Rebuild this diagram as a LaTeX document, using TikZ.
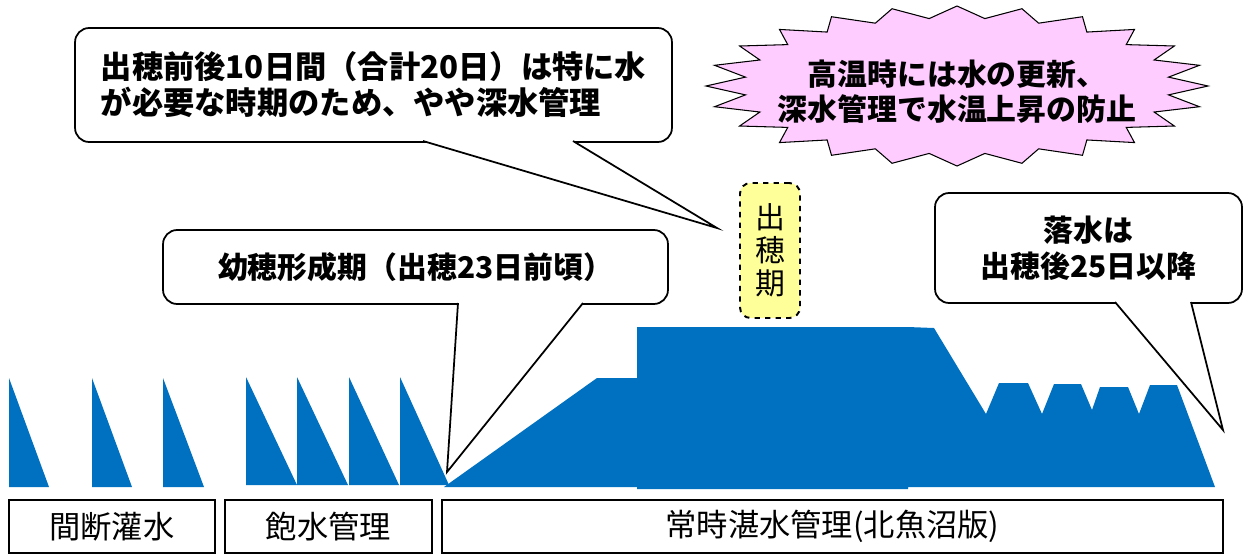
\documentclass[tikz,border=0pt]{standalone}
\usepackage{fontspec}
\newfontfamily\jp{Noto Sans CJK JP}
\definecolor{waterblue}{HTML}{0070C0}
\definecolor{burstpink}{HTML}{FFCCFF}
\definecolor{noteyellow}{HTML}{FFFF99}
\tikzset{
  water/.style={fill=waterblue},
  balloon/.style={draw,line width=1pt,rounded corners=8pt,fill=white,align=left,
    font=\jp\bfseries\fontsize{17}{20.5}\selectfont},
  tail/.style={draw,line width=1pt,fill=white,line join=miter},
  burst/.style={draw,line width=0.6pt,fill=burstpink},
  stagebox/.style={draw,line width=1pt,minimum height=1.06cm,inner sep=0pt,
    font=\jp\fontsize{17.8}{20}\selectfont},
  headbox/.style={draw,dashed,line width=1.1pt,rounded corners=6pt,fill=noteyellow,
    minimum width=1.2cm,minimum height=2.7cm,align=center,
    font=\jp\fontsize{17}{18.8}\selectfont}
}
\begin{document}
\begin{tikzpicture}[x=0.02cm,y=-0.02cm]
  \useasboundingbox (0,0) rectangle (1249,556);

  % water depth
  \foreach \x/\w in {9/40,92/40,163/41}
    \fill[water] (\x,378) -- (\x,487) -- ++(\w,0) -- cycle;
  \foreach \x/\w in {246/51,297/51,349/50,400/49}
    \fill[water] (\x,377) -- (\x,485) -- ++(\w,0) -- cycle;
  \fill[water] (444,487) -- (597,378) -- (637,378) -- (637,327) -- (908,327)
    -- (934,328) -- (986,414) -- (999,383) -- (1028,383) -- (1042,414)
    -- (1054,384) -- (1081,384) -- (1092,410) -- (1100,387) -- (1128,387)
    -- (1139,414) -- (1150,385) -- (1177,385) -- (1215,487) -- (908,487)
    -- (908,489) -- (637,489) -- (637,487) -- cycle;

  % stages
  \node[stagebox,minimum width=4.12cm] (intermit) at (112,526.5) {間断灌水};
  \node[stagebox,minimum width=4.14cm] (saturate) at (328.5,526.5) {飽水管理};
  \node[stagebox,minimum width=15.62cm] (flooded) at (832.5,526.5) {常時湛水管理(北魚沼版)};

  % heading
  \node[headbox] (heading) at (770,250.5) {出\\穂\\期};

  % high temperature
  \draw[burst] plot[samples at={0,...,47},variable=\k]
    ({957+251*(1-0.15*mod(\k,2))*sin(7.5*\k)},{86-80*(1-0.15*mod(\k,2))*cos(7.5*\k)}) -- cycle;
  \node[font=\jp\bfseries\fontsize{17}{20}\selectfont,align=center] (hot) at (957,92)
    {高温時には水の更新、\\深水管理で水温上昇の防止};

  % callouts
  \node[balloon,minimum width=11.94cm,minimum height=2.28cm,
    font=\jp\bfseries\fontsize{17.8}{20.5}\selectfont] (deep) at (373.5,85)
    {出穂前後10日間（合計20日）は特に水\\が必要な時期のため、やや深水管理};
  \coordinate (deepL) at (423,141);
  \coordinate (deepR) at (573,141);
  \coordinate (deepTip) at (717,228);
  \filldraw[tail] (deepL) -- (deepTip) -- (deepR);

  \node[balloon,minimum width=10.1cm,minimum height=1.48cm,align=center] (panicle) at (415.5,267)
    {幼穂形成期（出穂23日前頃）};
  \coordinate (panicleL) at (458,303);
  \coordinate (panicleR) at (583,303);
  \coordinate (panicleTip) at (447,472);
  \filldraw[tail] (panicleL) -- (panicleTip) -- (panicleR);

  \node[balloon,minimum width=6.14cm,minimum height=2.2cm,align=center] (drain) at (1088.5,248)
    {落水は\\出穂後25日以降};
  \coordinate (drainL) at (1115,302);
  \coordinate (drainR) at (1191,302);
  \coordinate (drainTip) at (1223,430);
  \filldraw[tail] (drainL) -- (drainTip) -- (drainR);
\end{tikzpicture}
\end{document}
